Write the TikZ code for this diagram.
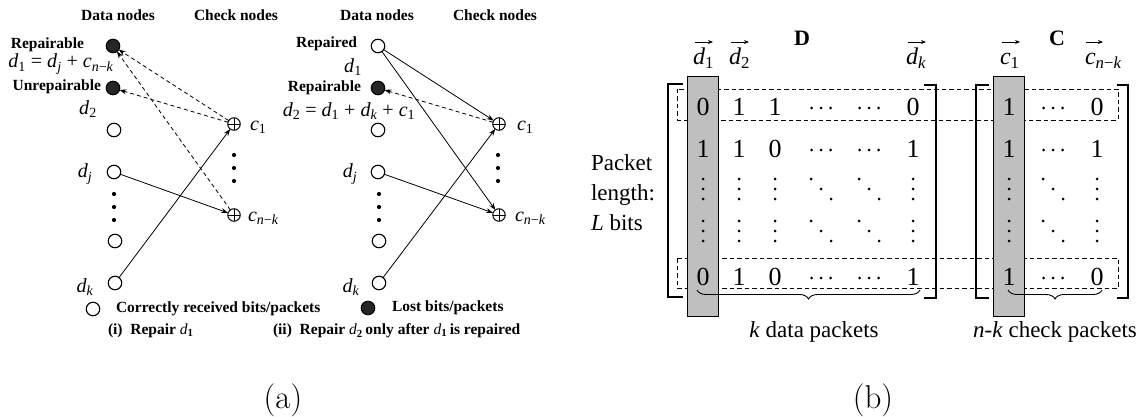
\documentclass[tikz,border=0pt]{standalone}
\usepackage{fontspec}
\newfontfamily\tms{Liberation Serif}
\usetikzlibrary{arrows.meta,decorations.pathreplacing}
\newcommand{\fsz}[1]{\fontsize{#1}{#1}\selectfont}
\newcommand{\iv}[1]{\textit{#1}}
\newcommand{\sbs}[1]{\textsubscript{#1}}
\begin{document}
\begin{tikzpicture}[x=1pt,y=-1pt,
  every node/.style={inner sep=0pt,outer sep=0pt},
  hdr/.style={font=\tms\fsz{15.5}\bfseries},
  lbl/.style={font=\tms\fsz{15.5}\bfseries},
  mlbl/.style={font=\tms\fsz{20}},
  opennode/.style={circle,draw,line width=1.1pt,minimum size=13.5pt,fill=white},
  lostnode/.style={circle,draw,line width=1.1pt,minimum size=13.5pt,fill=black!85},
  checknode/.style={circle,draw,line width=1pt,minimum size=12.5pt,
    path picture={\draw[line width=1pt] (path picture bounding box.north) -- (path picture bounding box.south)
      (path picture bounding box.west) -- (path picture bounding box.east);}},
  dotn/.style={circle,fill=black,minimum size=4.2pt},
  arr/.style={line width=0.8pt,-{Stealth[length=7pt,width=5pt]}},
  darr/.style={line width=0.8pt,dash pattern=on 4pt off 3pt,-{Stealth[length=7pt,width=5pt]}},
  mat/.style={font=\tms\fsz{26}},
  vlab/.style={font=\tms\fsz{24},anchor=base west},
  varr/.style={line width=0.8pt,-{Stealth[length=5pt,width=4pt]}},
  bra/.style={line width=2.2pt},
  drow/.style={line width=0.8pt,dash pattern=on 4.5pt off 3pt},
  gcol/.style={fill=black!25,draw=black,line width=0.6pt},
  captxt/.style={font=\fsz{33}},
  vdt/.pic={\fill (0,-10) circle (1.5) (0,0) circle (1.5) (0,10) circle (1.5);},
  ddt/.pic={\fill (-10,-10) circle (1.5) (0,0) circle (1.5) (10,10) circle (1.5);},
  cdt/.pic={\fill (-9.5,0) circle (1.5) (0,0) circle (1.5) (9.5,0) circle (1.5);}
]
\useasboundingbox (0,0) rectangle (1147,417);

% ===== Panel (i) =====
\node[hdr] (dn1) at (118,15) {Data nodes};
\node[hdr] (cn1) at (236,15) {Check nodes};
\node[lostnode] (r1) at (113,46) {};
\node[lbl,anchor=east] (r1t) at (84,45) {Repairable};
\node[mlbl] (eq1) at (61,64) {\iv{d}\sbs{1} = \iv{d}\sbs{\iv{j}} + \iv{c}\sbs{\iv{n}−\iv{k}}};
\node[lostnode] (u1) at (113,88) {};
\node[lbl,anchor=east] (u1t) at (101,87) {Unrepairable};
\node[mlbl] (d2a) at (88,109) {\iv{d}\sbs{2}};
\node[opennode] (o2a) at (114,130) {};
\node[mlbl] (dja) at (85,174) {\iv{d}\sbs{\iv{j}}};
\node[opennode] (oja) at (114,172) {};
\node[dotn] (da1) at (114,194) {};
\node[dotn] (da2) at (114,207) {};
\node[dotn] (da3) at (114,220) {};
\node[opennode] (o3a) at (115,241) {};
\node[mlbl] (dka) at (85,287) {\iv{d}\sbs{\iv{k}}};
\node[opennode] (oka) at (115,283) {};
\node[checknode] (c1a) at (234,124) {};
\node[mlbl,anchor=west] (c1at) at (250,127) {\iv{c}\sbs{1}};
\node[dotn] (ca1) at (234,155) {};
\node[dotn] (ca2) at (234,168) {};
\node[dotn] (ca3) at (234,181) {};
\node[checknode] (cka) at (234,215) {};
\node[mlbl,anchor=west] (ckat) at (248,218) {\iv{c}\sbs{\iv{n}−\iv{k}}};

\draw[darr] (c1a) -- (r1);
\draw[darr] (c1a) -- (u1);
\draw[darr] (cka) -- (r1);
\draw[arr] (oja) -- (cka);
\draw[arr] (oka) -- (c1a);

% ===== Panel (ii) =====
\node[hdr] (dn2) at (377,15) {Data nodes};
\node[hdr] (cn2) at (495,15) {Check nodes};
\node[opennode] (rep) at (378,46) {};
\node[lbl,anchor=east] (rept) at (357,44) {Repaired};
\node[mlbl] (d1b) at (353,67) {\iv{d}\sbs{1}};
\node[lostnode] (rp2) at (378,88) {};
\node[lbl,anchor=east] (rp2t) at (361,88) {Repairable};
\node[mlbl] (eq2) at (349,111) {\iv{d}\sbs{2} = \iv{d}\sbs{1} + \iv{d}\sbs{\iv{k}} + \iv{c}\sbs{1}};
\node[opennode] (o2b) at (378,130) {};
\node[mlbl] (djb) at (350,174) {\iv{d}\sbs{\iv{j}}};
\node[opennode] (ojb) at (378,172) {};
\node[dotn] (db1) at (379,194) {};
\node[dotn] (db2) at (379,207) {};
\node[dotn] (db3) at (379,220) {};
\node[opennode] (o3b) at (379,241) {};
\node[mlbl] (dkb) at (351,287) {\iv{d}\sbs{\iv{k}}};
\node[opennode] (okb) at (379,283) {};
\node[checknode] (c1b) at (499,124) {};
\node[mlbl,anchor=west] (c1bt) at (517,127) {\iv{c}\sbs{1}};
\node[dotn] (cb1) at (498,155) {};
\node[dotn] (cb2) at (498,168) {};
\node[dotn] (cb3) at (498,181) {};
\node[checknode] (ckb) at (499,215) {};
\node[mlbl,anchor=west] (ckbt) at (515,218) {\iv{c}\sbs{\iv{n}−\iv{k}}};

\draw[arr] (rep) -- (c1b);
\draw[arr] (rep) -- (ckb);
\draw[darr] (c1b) -- (rp2);
\draw[arr] (ojb) -- (ckb);
\draw[arr] (okb) -- (c1b);

% legend and captions
\node[opennode] (lgo) at (93,309) {};
\node[lbl,anchor=west] (lgot) at (116,309) {Correctly received bits/packets};
\node[lostnode] (lgl) at (368,308) {};
\node[lbl,anchor=west] (lglt) at (392,308) {Lost bits/packets};
\node[lbl,anchor=west] (capi) at (108,331) {(i)\ \ Repair {\mdseries\iv{d}}\sbs{1}};
\node[lbl,anchor=west] (capii) at (273,331) {(ii)\ \ Repair {\mdseries\iv{d}}\sbs{2}\,only after {\mdseries\iv{d}}\sbs{1}\,is repaired};

% ===== (b) =====
\draw[drow] (677,89) rectangle (1118,120);
\draw[drow] (677,258) rectangle (1118,288);
\node[gcol,minimum width=31pt,minimum height=240pt] (g1) at (702.5,196) {};
\node[gcol,minimum width=31pt,minimum height=240pt] (g2) at (1008.5,196) {};
\draw[line width=0.9pt,decorate,decoration={brace,mirror,amplitude=9pt}] (697,290) -- (920,290);
\draw[line width=0.9pt,decorate,decoration={brace,mirror,amplitude=9pt}] (1008,290) -- (1102,290);
\draw[bra] (683,84) -- (668,84) -- (668,297) -- (683,297);
\draw[bra] (924,85) -- (936,85) -- (936,298) -- (924,298);
\draw[bra] (989,85) -- (976,85) -- (976,298) -- (989,298);
\draw[bra] (1117,85) -- (1128,85) -- (1128,298) -- (1117,298);

\node[font=\tms\fsz{22}\bfseries] (Dl) at (802,38) {D};
\node[font=\tms\fsz{22}\bfseries] (Cl) at (1057,38) {C};
\node[vlab] (vd1) at (693,65) {\iv{d}\sbs{1}};
\node[vlab] (vd2) at (729,65) {\iv{d}\sbs{2}};
\node[vlab] (vdk) at (906,65) {\iv{d}\sbs{\iv{k}}};
\node[vlab] (vc1) at (1000,65) {\iv{c}\sbs{1}};
\node[vlab] (vck) at (1085,65) {\iv{c}\sbs{\iv{n}−\iv{k}}};
\foreach \v in {vd1,vd2,vdk,vc1}
  \draw[varr] ([shift={(2,-23)}]\v.base west) -- ([shift={(20,-23)}]\v.base west);
\draw[varr] ([shift={(1,-23)}]vck.base west) -- ([shift={(18,-23)}]vck.base west);

\node[font=\tms\fsz{23},align=left,anchor=west] (plen) at (591,193) {Packet\\[7pt]length:\\[7pt]\iv{L} bits};

% matrix D
\node[mat] (m11) at (703,107) {0};
\node[mat] (m12) at (739,107) {1};
\node[mat] (m13) at (775,107) {1};
\pic at (821,108) {cdt};
\pic at (869,108) {cdt};
\node[mat] (m16) at (913,107) {0};
\node[mat] (m21) at (703,149) {1};
\node[mat] (m22) at (739,149) {1};
\node[mat] (m23) at (775,149) {0};
\pic at (821,150) {cdt};
\pic at (869,150) {cdt};
\node[mat] (m26) at (913,149) {1};
\foreach \yy in {189,231}{
  \pic at (703,\yy) {vdt};
  \pic at (739,\yy) {vdt};
  \pic at (775,\yy) {vdt};
  \pic at (821,\yy) {ddt};
  \pic at (869,\yy) {ddt};
  \pic at (913,\yy) {vdt};
  \pic at (1009,\yy) {vdt};
  \pic at (1053,\yy) {ddt};
  \pic at (1097,\yy) {vdt};
}
\node[mat] (m51) at (703,277) {0};
\node[mat] (m52) at (739,277) {1};
\node[mat] (m53) at (775,277) {0};
\pic at (821,278) {cdt};
\pic at (869,278) {cdt};
\node[mat] (m56) at (913,277) {1};
% matrix C
\node[mat] (n11) at (1009,107) {1};
\pic at (1053,108) {cdt};
\node[mat] (n13) at (1097,107) {0};
\node[mat] (n21) at (1009,149) {1};
\pic at (1053,150) {cdt};
\node[mat] (n23) at (1097,149) {1};
\node[mat] (n51) at (1009,277) {1};
\pic at (1053,278) {cdt};
\node[mat] (n53) at (1097,277) {0};

\node[font=\tms\fsz{23}] (kdp) at (814,332) {\iv{k} data packets};
\node[font=\tms\fsz{23}] (nkc) at (1055,332) {\iv{n}-\iv{k} check packets};

\node[captxt] (capa) at (283,400) {(a)};
\node[captxt] (capb) at (873,400) {(b)};
\end{tikzpicture}
\end{document}
